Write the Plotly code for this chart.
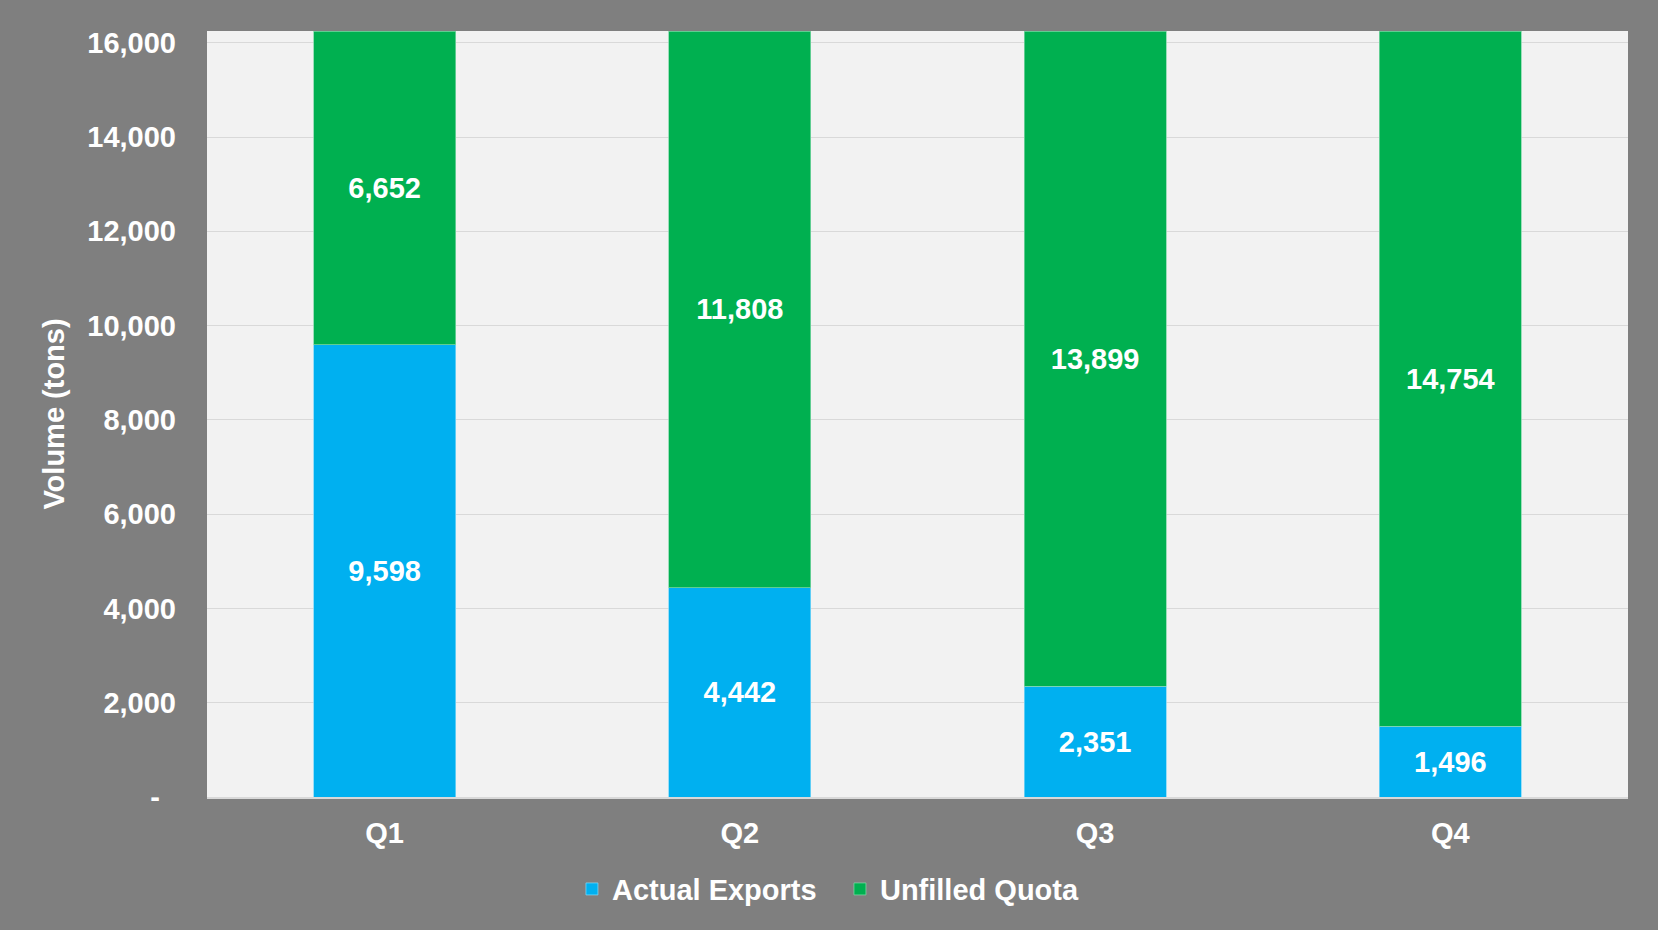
import plotly.graph_objects as go

quarters = ["Q1", "Q2", "Q3", "Q4"]
actual_exports = [9598, 4442, 2351, 1496]
unfilled_quota = [6652, 11808, 13899, 14754]
y_tickvals = [0, 2000, 4000, 6000, 8000, 10000, 12000, 14000, 16000]
y_ticktext = ["-\u00a0\u00a0", "2,000", "4,000", "6,000", "8,000", "10,000", "12,000", "14,000", "16,000"]

FONT = "Liberation Sans, Arial, sans-serif"

fig = go.Figure()
fig.add_trace(go.Bar(
    x=quarters, y=actual_exports, name="Actual Exports",
    marker=dict(color="#00B0F0", line=dict(color="#7FD7F7", width=0.75)),
    texttemplate="%{y:,}", textposition="inside", insidetextanchor="middle",
    textfont=dict(family=FONT, size=29, color="white", weight="bold"),
    constraintext="none",
))
fig.add_trace(go.Bar(
    x=quarters, y=unfilled_quota, name="Unfilled Quota",
    marker=dict(color="#00B050", line=dict(color="#7FD7A7", width=0.75)),
    texttemplate="%{y:,}", textposition="inside", insidetextanchor="middle",
    textfont=dict(family=FONT, size=29, color="white", weight="bold"),
    constraintext="none",
))

fig.update_layout(
    barmode="stack",
    bargap=0.6,
    width=1658, height=930,
    margin=dict(l=207, r=30, t=31, b=133),
    paper_bgcolor="#7F7F7F",
    plot_bgcolor="#F2F2F2",
    font=dict(family=FONT, size=29, color="white", weight="bold"),
    showlegend=True,
    legend=dict(
        orientation="h",
        traceorder="normal",
        xref="container", yref="container",
        x=0.5066, xanchor="center",
        y=0.044, yanchor="middle",
        font=dict(family=FONT, size=29, color="white", weight="bold"),
        bgcolor="rgba(0,0,0,0)",
        itemwidth=30,
        entrywidth=223, entrywidthmode="pixels",
    ),
)
fig.update_yaxes(
    range=[0, 16250],
    tickvals=y_tickvals, ticktext=y_ticktext,
    showgrid=True, gridcolor="#D9D9D9", gridwidth=1,
    zeroline=False, ticks="", ticklabelstandoff=30,
    title=dict(text="Volume (tons)", font=dict(family=FONT, size=29, color="white", weight="bold"), standoff=14),
)
fig.update_xaxes(
    showline=True, linecolor="#D9D9D9", linewidth=1.5,
    ticks="", ticklabelstandoff=9,
)

# drop the page's default body margin so the figure fills the window
fig.write_html(
    "out.html",
    config={"displayModeBar": False},
    post_script="document.body.style.margin='0';document.body.style.overflow='hidden';",
)
